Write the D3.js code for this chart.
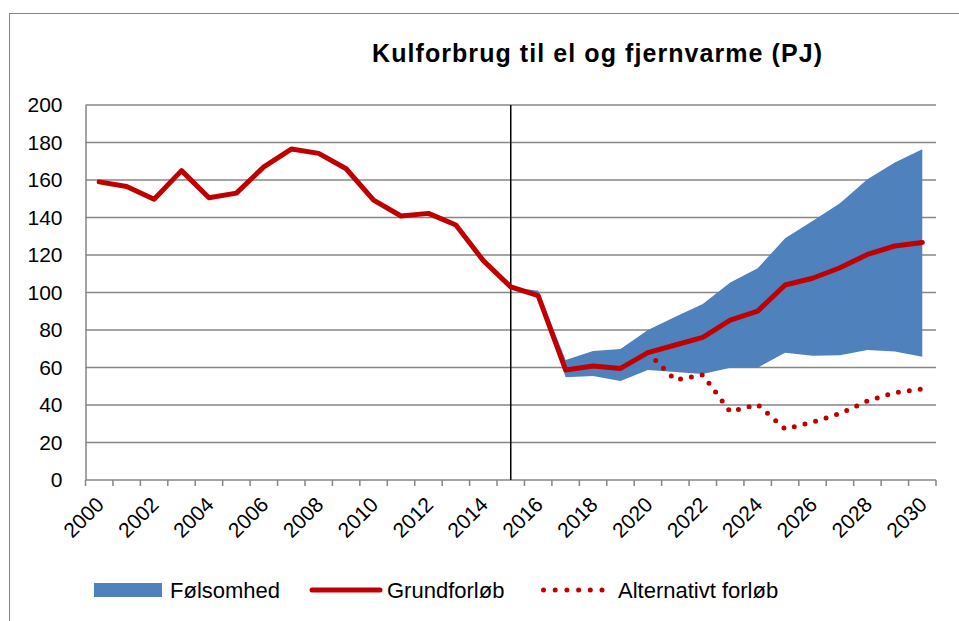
<!DOCTYPE html>
<html lang="da">
<head>
<meta charset="UTF-8">
<title>Kulforbrug til el og fjernvarme (PJ)</title>
<style>
  body { margin: 0; background: #fff; }
  svg { display: block; font-family: "Liberation Sans", Arial, sans-serif; }
  .tick-label { font-size: 21px; fill: #000; }
  .legend-label { font-size: 22px; fill: #000; }
</style>
</head>
<body>
<svg width="959" height="621"></svg>
<script src="https://d3js.org/d3.v7.min.js"></script>
<script>
// --- data ---
const years = d3.range(2000, 2031);
const yTicks = [0, 20, 40, 60, 80, 100, 120, 140, 160, 180, 200];
const xTickYears = d3.range(2000, 2031, 2);

const grundforloeb = [159, 156.5, 149.7, 165, 150.5, 153, 167, 176.5, 174.2, 166, 149.3,
  140.8, 142.2, 136, 117, 103, 98.3, 58.7, 60.8, 59.5, 67.9, 72, 76.1, 85.3, 90.1,
  104, 107.6, 113.2, 120.3, 124.8, 126.7];

const bandYears = d3.range(2015, 2031);
const bandUpper = [103, 101, 64, 68.8, 69.9, 80, 87.1, 93.9, 105.4, 112.9, 128.9, 138.1, 147.6, 160.4, 169.4, 176.4];
const bandLower = [103, 98, 54.8, 55.5, 52.8, 58.7, 57.6, 56.5, 59.9, 59.9, 67.9, 66.3, 66.5, 69.3, 68.6, 65.8];

const altYears = d3.range(2020, 2031);
const altValues = [67.9, 53.3, 56, 36.4, 40.2, 27.2, 30.8, 35.5, 42.1, 46.6, 48.5];

const markerYear = 2015;

const red = "#C00000";
const blue = "#4F81BD";
const grid = "#868686";

const svg = d3.select("svg");

// outer chart frame (right/bottom fall outside the picture)
svg.append("rect")
  .attr("x", 9.5).attr("y", 13.5)
  .attr("width", 1000).attr("height", 700)
  .attr("fill", "none").attr("stroke", grid).attr("stroke-width", 1);

const x = d3.scaleBand().domain(years).range([85.5, 936]).paddingInner(0).paddingOuter(0);
const cx = d => x(d) + x.bandwidth() / 2;
const y = d3.scaleLinear().domain([0, 200]).range([480, 105]);

// gridlines
svg.append("g")
  .selectAll("line")
  .data(yTicks.slice(1))
  .join("line")
  .attr("x1", 85.5).attr("x2", 936)
  .attr("y1", d => y(d)).attr("y2", d => y(d))
  .attr("stroke", grid).attr("stroke-width", 1.5);

// y axis
const yAxis = svg.append("g")
  .attr("transform", "translate(85.5,0)")
  .call(d3.axisLeft(y).tickValues(yTicks).tickSize(0).tickPadding(23));
yAxis.select(".domain").attr("stroke", grid).attr("stroke-width", 1.5);
yAxis.selectAll("text").attr("class", "tick-label").attr("font-family", null).attr("font-size", null);

// x axis: ticks at category boundaries
const xAxisG = svg.append("g");
xAxisG.append("line")
  .attr("x1", 85.5).attr("x2", 936)
  .attr("y1", y(0)).attr("y2", y(0))
  .attr("stroke", grid).attr("stroke-width", 1.5);
xAxisG.selectAll("line.tk")
  .data(years.concat([2031]))
  .join("line")
  .attr("class", "tk")
  .attr("x1", d => d === 2031 ? 936 : x(d))
  .attr("x2", d => d === 2031 ? 936 : x(d))
  .attr("y1", y(0)).attr("y2", y(0) + 6)
  .attr("stroke", grid).attr("stroke-width", 1.5);
xAxisG.selectAll("text")
  .data(xTickYears)
  .join("text")
  .attr("class", "tick-label")
  .attr("text-anchor", "end")
  .attr("transform", d => `translate(${cx(d) + 6},${y(0) + 26}) rotate(-45)`)
  .text(d => d);

// sensitivity band
const area = d3.area()
  .x((d, i) => cx(bandYears[i]))
  .y0((d, i) => y(bandLower[i]))
  .y1((d, i) => y(bandUpper[i]));
svg.append("path")
  .datum(bandUpper)
  .attr("d", area)
  .attr("fill", blue);

// vertical marker line
svg.append("line")
  .attr("x1", cx(markerYear)).attr("x2", cx(markerYear))
  .attr("y1", y(200)).attr("y2", y(0))
  .attr("stroke", "#000").attr("stroke-width", 1.5);

// alternative path (dotted)
svg.append("path")
  .datum(altValues)
  .attr("d", d3.line().x((d, i) => cx(altYears[i])).y(d => y(d)))
  .attr("fill", "none")
  .attr("stroke", red)
  .attr("stroke-width", 5)
  .attr("stroke-linecap", "round")
  .attr("stroke-dasharray", "0 11");

// base path
svg.append("path")
  .datum(grundforloeb)
  .attr("d", d3.line().x((d, i) => cx(years[i])).y(d => y(d)))
  .attr("fill", "none")
  .attr("stroke", red)
  .attr("stroke-width", 5)
  .attr("stroke-linejoin", "round")
  .attr("stroke-linecap", "round");

// title
svg.append("text")
  .attr("x", 597).attr("y", 62)
  .attr("text-anchor", "middle")
  .attr("font-size", 25)
  .attr("font-weight", "bold")
  .attr("textLength", 450)
  .attr("lengthAdjust", "spacing")
  .text("Kulforbrug til el og fjernvarme (PJ)");

// legend
const legend = svg.append("g");
legend.append("rect")
  .attr("x", 94).attr("y", 583).attr("width", 68).attr("height", 14)
  .attr("fill", blue);
legend.append("text").attr("class", "legend-label")
  .attr("x", 170).attr("y", 598).text("Følsomhed");

legend.append("line")
  .attr("x1", 312).attr("x2", 380).attr("y1", 590).attr("y2", 590)
  .attr("stroke", red).attr("stroke-width", 5).attr("stroke-linecap", "round");
legend.append("text").attr("class", "legend-label")
  .attr("x", 387).attr("y", 598).text("Grundforløb");

legend.append("line")
  .attr("x1", 543.5).attr("x2", 602).attr("y1", 590).attr("y2", 590)
  .attr("stroke", red).attr("stroke-width", 5).attr("stroke-linecap", "round")
  .attr("stroke-dasharray", "0 11.7");
legend.append("text").attr("class", "legend-label")
  .attr("x", 618).attr("y", 598).text("Alternativt forløb");
</script>
</body>
</html>
